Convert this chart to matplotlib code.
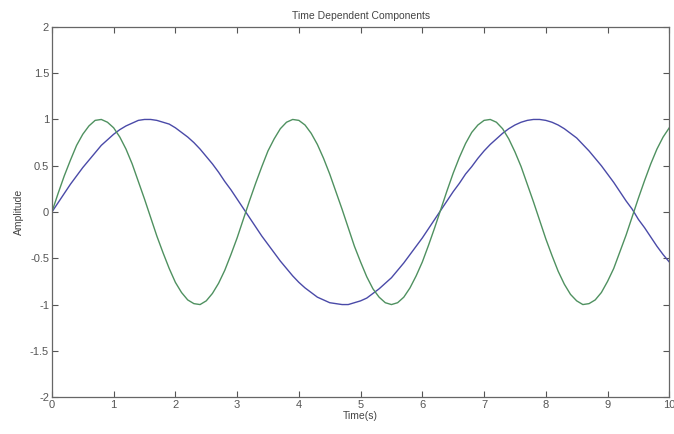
import matplotlib
matplotlib.use("Agg")
import matplotlib.pyplot as plt

time_s = [0.0, 0.1, 0.2, 0.3, 0.4, 0.5, 0.6, 0.7, 0.8, 0.9,
          1.0, 1.1, 1.2, 1.3, 1.4, 1.5, 1.6, 1.7, 1.8, 1.9,
          2.0, 2.1, 2.2, 2.3, 2.4, 2.5, 2.6, 2.7, 2.8, 2.9,
          3.0, 3.1, 3.2, 3.3, 3.4, 3.5, 3.6, 3.7, 3.8, 3.9,
          4.0, 4.1, 4.2, 4.3, 4.4, 4.5, 4.6, 4.7, 4.8, 4.9,
          5.0, 5.1, 5.2, 5.3, 5.4, 5.5, 5.6, 5.7, 5.8, 5.9,
          6.0, 6.1, 6.2, 6.3, 6.4, 6.5, 6.6, 6.7, 6.8, 6.9,
          7.0, 7.1, 7.2, 7.3, 7.4, 7.5, 7.6, 7.7, 7.8, 7.9,
          8.0, 8.1, 8.2, 8.3, 8.4, 8.5, 8.6, 8.7, 8.8, 8.9,
          9.0, 9.1, 9.2, 9.3, 9.4, 9.5, 9.6, 9.7, 9.8, 9.9,
          10.0]

blue_amp = [0.00, 0.10, 0.20, 0.30, 0.39, 0.48, 0.56, 0.64, 0.72, 0.78,
            0.84, 0.89, 0.93, 0.96, 0.99, 1.00, 1.00, 0.99, 0.97, 0.95,
            0.91, 0.86, 0.81, 0.75, 0.68, 0.60, 0.52, 0.43, 0.33, 0.24,
            0.14, 0.04, -0.06, -0.16, -0.26, -0.35, -0.44, -0.53, -0.61, -0.69,
            -0.76, -0.82, -0.87, -0.92, -0.95, -0.98, -0.99, -1.00, -1.00, -0.98,
            -0.96, -0.93, -0.88, -0.83, -0.77, -0.71, -0.63, -0.55, -0.46, -0.37,
            -0.28, -0.18, -0.08, 0.02, 0.12, 0.22, 0.31, 0.41, 0.49, 0.58,
            0.66, 0.73, 0.79, 0.85, 0.90, 0.94, 0.97, 0.99, 1.00, 1.00,
            0.99, 0.97, 0.94, 0.90, 0.85, 0.80, 0.73, 0.66, 0.58, 0.50,
            0.41, 0.32, 0.22, 0.12, 0.03, -0.08, -0.17, -0.27, -0.37, -0.46,
            -0.54]

green_amp = [0.00, 0.20, 0.39, 0.56, 0.72, 0.84, 0.93, 0.99, 1.00, 0.97,
             0.91, 0.81, 0.68, 0.52, 0.33, 0.14, -0.06, -0.26, -0.44, -0.61,
             -0.76, -0.87, -0.95, -0.99, -1.00, -0.96, -0.88, -0.77, -0.63, -0.46,
             -0.28, -0.08, 0.12, 0.31, 0.49, 0.66, 0.79, 0.90, 0.97, 1.00,
             0.99, 0.94, 0.85, 0.73, 0.58, 0.41, 0.22, 0.03, -0.17, -0.37,
             -0.54, -0.70, -0.83, -0.92, -0.98, -1.00, -0.98, -0.92, -0.82, -0.69,
             -0.54, -0.36, -0.17, 0.03, 0.23, 0.42, 0.59, 0.74, 0.86, 0.94,
             0.99, 1.00, 0.97, 0.90, 0.79, 0.65, 0.49, 0.30, 0.11, -0.09,
             -0.29, -0.47, -0.64, -0.78, -0.89, -0.96, -1.00, -0.99, -0.95, -0.87,
             -0.75, -0.61, -0.43, -0.25, -0.05, 0.15, 0.34, 0.52, 0.68, 0.81,
             0.91]

xticks = [0, 1, 2, 3, 4, 5, 6, 7, 8, 9, 10]
yticks = [-2, -1.5, -1, -0.5, 0, 0.5, 1, 1.5, 2]
ytick_labels = ["-2", "-1.5", "-1", "-0.5", "0", "0.5", "1", "1.5", "2"]

plt.rcParams['font.family'] = ['Liberation Sans', 'DejaVu Sans']

fig = plt.figure(figsize=(6.74, 4.34), dpi=100)
ax = fig.add_axes([0.077, 0.085, 0.916, 0.853])

ax.plot(time_s, blue_amp, color="#4a4aa8", linewidth=1.0)
ax.plot(time_s, green_amp, color="#4f9160", linewidth=1.0)

ax.set_xlim(0, 10)
ax.set_ylim(-2, 2)
ax.set_xticks(xticks)
ax.set_yticks(yticks)
ax.set_yticklabels(ytick_labels)
ax.tick_params(direction="in", top=True, right=True, length=4,
               labelsize=8, colors="#555555", pad=2)
for s in ax.spines.values():
    s.set_color("#666666")
    s.set_linewidth(0.9)

ax.set_title("Time Dependent Components", fontsize=7.5, color="#444444", pad=6)
ax.set_xlabel("Time(s)", fontsize=7.5, color="#444444", labelpad=1)
ax.set_ylabel("Amplitude", fontsize=7.5, color="#444444", labelpad=4)

fig.savefig("out.png", dpi=100)
